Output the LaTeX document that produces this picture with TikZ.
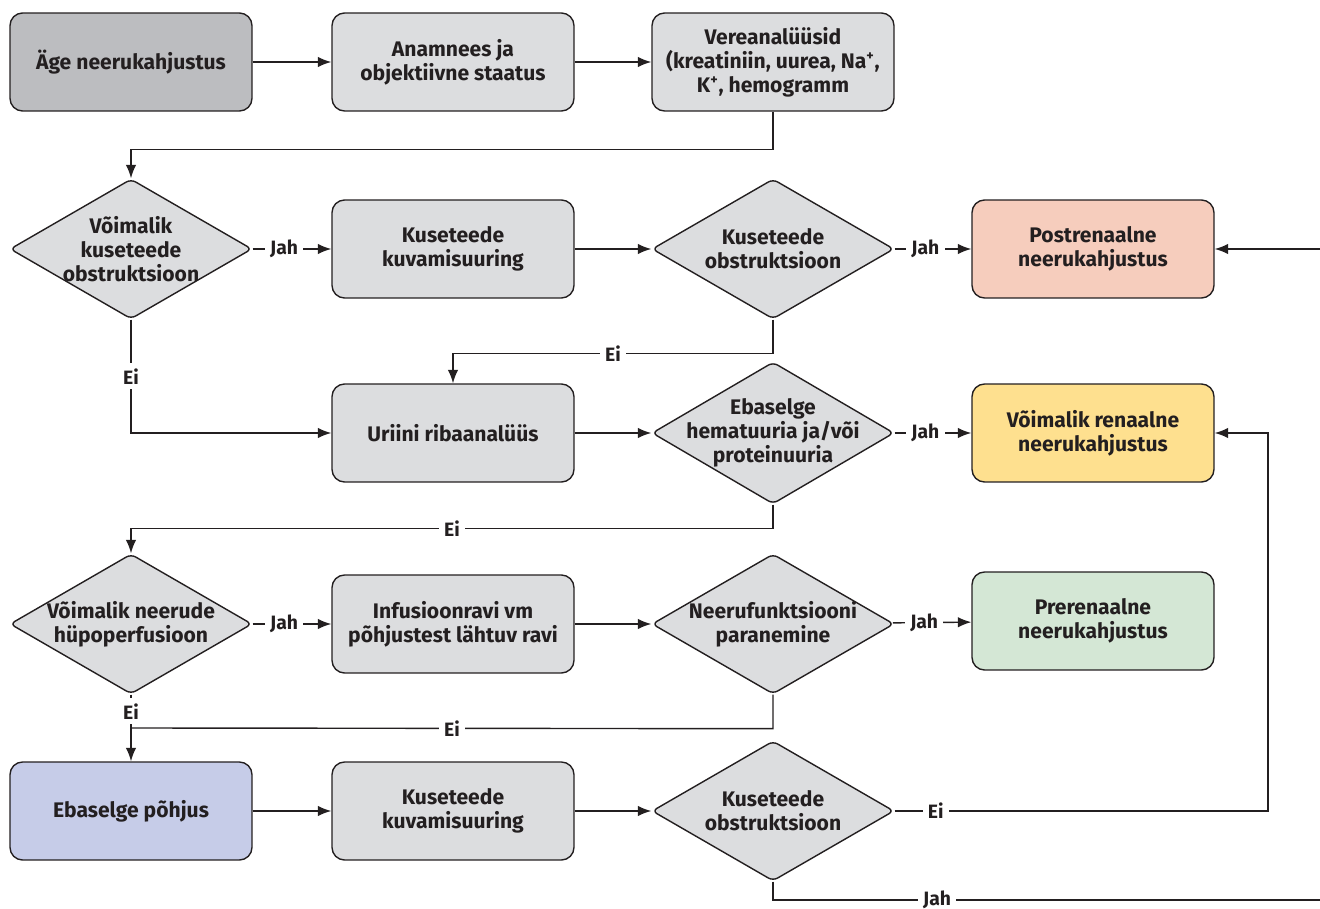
\documentclass[tikz,border=0pt]{standalone}
\usepackage{fontspec}
\setmainfont{Fira Sans}
\usetikzlibrary{shapes.geometric}
\usetikzlibrary{arrows.meta}

\definecolor{piir}{HTML}{231F20}
\definecolor{tume}{HTML}{BCBDC0}
\definecolor{hall}{HTML}{DCDDDF}
\definecolor{lohe}{HTML}{F6CDBD}
\definecolor{kollane}{HTML}{FEE08F}
\definecolor{roheline}{HTML}{D4E7D5}
\definecolor{sinine}{HTML}{C6CCE8}

\begin{document}
\begin{tikzpicture}[x=0.02cm,y=-0.02cm,
  font=\bfseries\fontsize{12}{13.6}\selectfont, text=piir,
  kast/.style={draw=piir, line width=0.8pt, rounded corners=0.25cm, fill=hall,
    minimum width=4.84cm, minimum height=1.96cm, align=center, inner sep=2pt},
  romb/.style={diamond, draw=piir, line width=0.8pt, rounded corners=3pt, fill=hall,
    minimum width=4.84cm, minimum height=2.8cm, align=center, inner sep=-5mm},
  nool/.style={draw=piir, line width=0.8pt, -{Latex[length=2.7mm,width=2.1mm]}},
  joon/.style={draw=piir, line width=0.8pt},
  silt/.style={fill=white, inner sep=3pt, font=\bfseries\fontsize{11}{12}\selectfont}]

\useasboundingbox (0,0) rectangle (1320,909);

% Rida 1
\node[kast, fill=tume] (age) at (131,62) {Äge neerukahjustus};
\node[kast] (anamnees) at (453,62) {Anamnees ja\\objektiivne staatus};
\node[kast] (veri) at (773,62) {Vereanalüüsid\\(kreatiniin, uurea, Na\textsuperscript{+},\\K\textsuperscript{+}, hemogramm};

% Rida 2
\node[romb] (obs1) at (131,249) {Võimalik\\kuseteede\\obstruktsioon};
\node[kast] (kuva1) at (453,249) {Kuseteede\\kuvamisuuring};
\node[romb] (obs2) at (773,249) {Kuseteede\\obstruktsioon};
\node[kast, fill=lohe] (post) at (1093,249) {Postrenaalne\\neerukahjustus};

% Rida 3
\node[kast] (uriin) at (453,433) {Uriini ribaanalüüs};
\node[romb] (hema) at (773,433) {Ebaselge\\hematuuria ja/või\\proteinuuria};
\node[kast, fill=kollane] (renaal) at (1093,433) {Võimalik renaalne\\neerukahjustus};

% Rida 4
\node[romb] (hypo) at (131,624) {Võimalik neerude\\hüpoperfusioon};
\node[kast] (infus) at (453,624) {Infusioonravi vm\\põhjustest lähtuv ravi};
\node[romb] (para) at (773,624) {Neerufunktsiooni\\paranemine};
\node[kast, fill=roheline] (pre) at (1093,621) {Prerenaalne\\neerukahjustus};

% Rida 5
\node[kast, fill=sinine] (pohjus) at (131,811) {Ebaselge põhjus};
\node[kast] (kuva2) at (453,811) {Kuseteede\\kuvamisuuring};
\node[romb] (obs3) at (773,811) {Kuseteede\\obstruktsioon};

\coordinate (paremal) at (1268,433);
\coordinate (servF) at (1320,249);
\coordinate (servAll) at (1320,900);

% Nooled
\draw[nool] (age) -- (anamnees);
\draw[nool] (anamnees) -- (veri);
\draw[nool] (veri.south) -- ++(0,38) -| (obs1.north);

\draw[nool] (obs1) -- node[silt, pos=0.4]{Jah} (kuva1);
\draw[nool] (kuva1) -- (obs2);
\draw[nool] (obs2) -- node[silt, pos=0.4]{Jah} (post);
\draw[nool] (servF) -- (post);
\draw[nool] (obs2.south) -- ++(0,34) -| node[silt, pos=0.25]{Ei} (uriin.north);
\draw[nool] (obs1.south) |- node[silt, pos=0.25]{Ei} (uriin.west);

\draw[nool] (uriin) -- (hema);
\draw[nool] (hema) -- node[silt, pos=0.4]{Jah} (renaal);
\draw[nool] (hema.south) -- ++(0,24) -| node[silt, pos=0.25]{Ei} (hypo.north);

\draw[nool] (hypo) -- node[silt, pos=0.4]{Jah} (infus);
\draw[nool] (infus) -- (para);
\draw[nool] (para) -- node[silt, pos=0.4]{Jah} (pre);
\draw[nool] (hypo.south) -- node[silt, pos=0.25]{Ei} (pohjus.north);
\draw[joon] (para.south) -- ++(0,34) -- node[silt]{Ei} (hypo.south |- 0,728);

\draw[nool] (pohjus) -- (kuva2);
\draw[nool] (kuva2) -- (obs3);
\draw[nool] (obs3.east) -- node[silt, pos=0.11]{Ei} (obs3.east -| paremal) -- (paremal) -- (renaal.east);
\draw[joon] (obs3.south) |- node[silt, pos=0.65]{Jah} (servAll);

\end{tikzpicture}
\end{document}
